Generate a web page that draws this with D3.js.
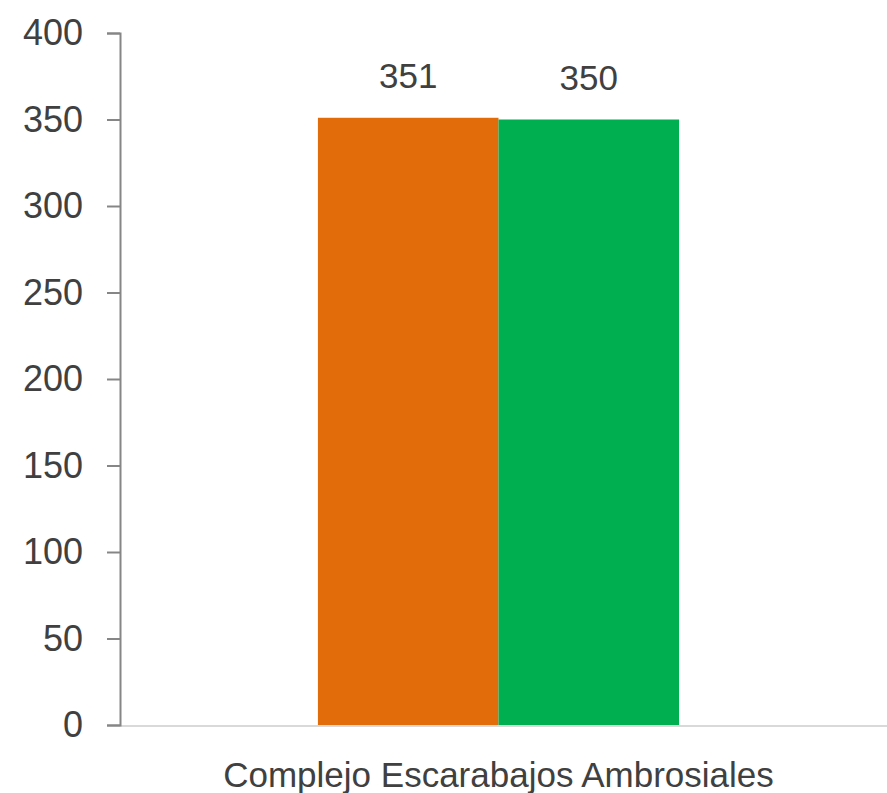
<!DOCTYPE html>
<html>
<head>
<meta charset="utf-8">
<script src="https://cdn.jsdelivr.net/npm/d3@7"></script>
<style>
  body { margin: 0; background: #fff; }
  svg { display: block; }
</style>
</head>
<body>
<div id="chart"></div>
<script>
const categories = ["Complejo Escarabajos Ambrosiales"];
const seriesNames = ["Serie 1", "Serie 2"];
const seriesValues = [351, 350];
const seriesColors = ["#e36c0a", "#00b050"];
const yTicks = [0, 50, 100, 150, 200, 250, 300, 350, 400];

const width = 887;
const height = 793;
const margin = { top: 33, right: 10, bottom: 68, left: 120 };

const svg = d3
  .select("#chart")
  .append("svg")
  .attr("width", width)
  .attr("height", height)
  .style("font-family", "'Liberation Sans', Arial, sans-serif");

const y = d3
  .scaleLinear()
  .domain([0, 400])
  .range([height - margin.bottom, margin.top]);

const x = d3
  .scaleBand()
  .domain(categories)
  .range([margin.left, width - margin.right])
  .paddingOuter(0.548)
  .paddingInner(0);

const xSeries = d3
  .scaleBand()
  .domain(seriesNames)
  .range([0, x.bandwidth()])
  .padding(0);

// baseline
svg
  .append("line")
  .attr("x1", margin.left)
  .attr("x2", width)
  .attr("y1", y(0) + 1)
  .attr("y2", y(0) + 1)
  .attr("stroke", "#d9d9d9")
  .attr("stroke-width", 2);

// y axis
const yAxis = svg
  .append("g")
  .attr("transform", `translate(${margin.left},0)`)
  .call(d3.axisLeft(y).tickValues(yTicks).tickSize(13).tickPadding(24));

yAxis.select(".domain").attr("stroke", "#868686").attr("stroke-width", 2);
yAxis.selectAll(".tick line").attr("stroke", "#868686").attr("stroke-width", 2);
yAxis
  .selectAll(".tick text")
  .attr("fill", "#404040")
  .style("font-size", "36px")
  .style("font-family", "'Liberation Sans', Arial, sans-serif");

// bars
const barGroup = svg
  .append("g")
  .selectAll("g")
  .data(categories)
  .join("g")
  .attr("transform", (d) => `translate(${x(d)},0)`);

barGroup
  .selectAll("rect")
  .data(seriesValues.map((v, i) => ({ name: seriesNames[i], value: v, color: seriesColors[i] })))
  .join("rect")
  .attr("x", (d) => xSeries(d.name))
  .attr("width", xSeries.bandwidth())
  .attr("y", (d) => y(d.value))
  .attr("height", (d) => y(0) - y(d.value))
  .attr("fill", (d) => d.color);

barGroup
  .selectAll("text.value")
  .data(seriesValues.map((v, i) => ({ name: seriesNames[i], value: v })))
  .join("text")
  .attr("class", "value")
  .attr("x", (d) => xSeries(d.name) + xSeries.bandwidth() / 2)
  .attr("y", (d) => y(d.value) - 30)
  .attr("text-anchor", "middle")
  .attr("fill", "#404040")
  .style("font-size", "35px")
  .text((d) => d.value);

// category label
svg
  .append("g")
  .selectAll("text")
  .data(categories)
  .join("text")
  .attr("x", (d) => x(d) + x.bandwidth() / 2)
  .attr("y", height - 6)
  .attr("text-anchor", "middle")
  .attr("fill", "#404040")
  .style("font-size", "35px")
  .text((d) => d);
</script>
</body>
</html>
